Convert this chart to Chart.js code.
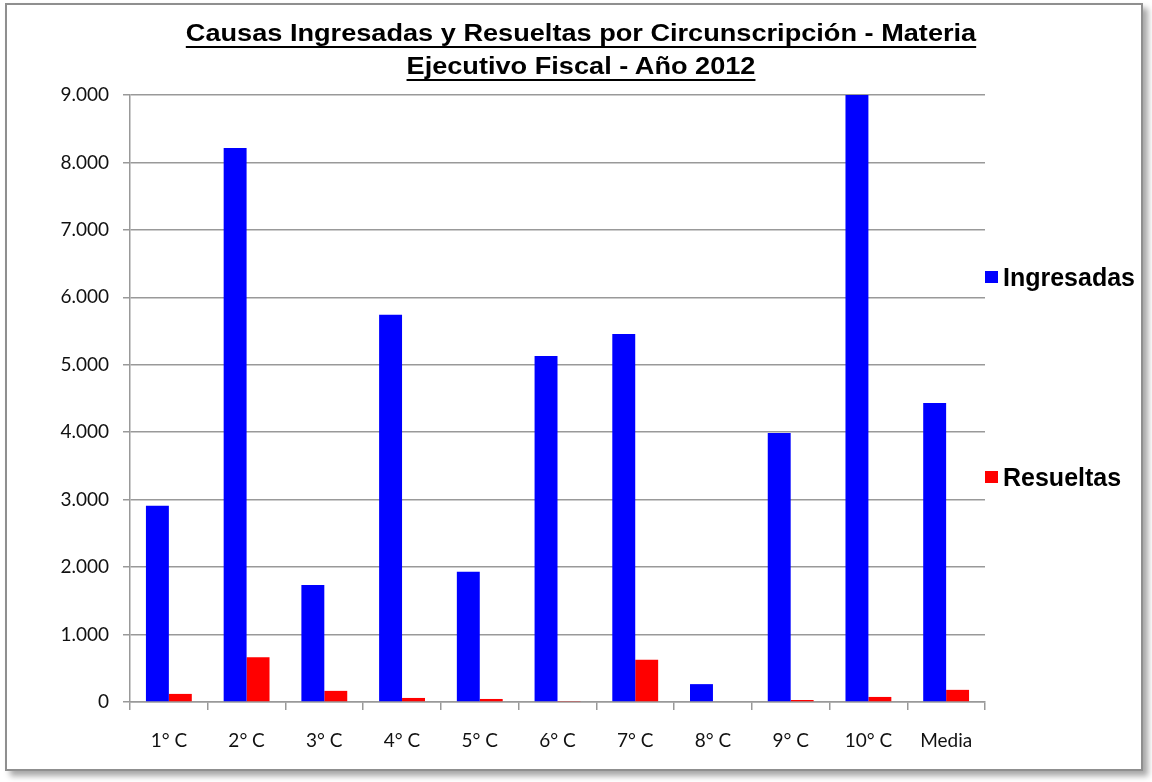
<!DOCTYPE html>
<html>
<head>
<meta charset="utf-8">
<script src="https://cdn.jsdelivr.net/npm/chart.js@4.4.1/dist/chart.umd.min.js"></script>
<style>
    body { margin: 0; background: #fff; overflow: hidden; width: 1152px; height: 782px; }
    #frame {
        position: absolute; left: 5px; top: 3px; width: 1138px; height: 768px;
        box-sizing: border-box; border: 2px solid #8f8f8f; background: #fff;
        box-shadow: 5px 5px 6px rgba(0, 0, 0, 0.35);
    }
    #frame canvas { position: absolute; left: 0; top: 0; }
    #titulo {
        position: absolute; left: 0; top: 17px; width: 1162px;
        text-align: center; font-family: "Liberation Sans", Arial, sans-serif;
        font-weight: bold; font-size: 23px; line-height: 33px; color: #000;
        text-decoration: underline; text-decoration-thickness: 2px; text-underline-offset: 5px;
        transform: scaleX(1.18); transform-origin: 581px 0;
    }
</style>
</head>
<body>
<div id="frame"><canvas id="grafico" width="1134" height="764"></canvas></div>
<div id="titulo">Causas Ingresadas y Resueltas por Circunscripción - Materia<br>Ejecutivo Fiscal - Año 2012</div>
<script>
// datos
const categorias = ['1° C', '2° C', '3° C', '4° C', '5° C', '6° C', '7° C', '8° C', '9° C', '10° C', 'Media'];
const ingresadas = [2910, 8215, 1735, 5740, 1930, 5130, 5455, 265, 3990, 9000, 4435];
const resueltas = [120, 665, 165, 60, 45, 15, 625, 0, 30, 75, 180];
const yMax = 9000;
const yPaso = 1000;

function miles(v) {
    return String(v).replace(/\B(?=(\d{3})+(?!\d))/g, '.');
}

// leyenda a la derecha, items separados como en el original
const leyenda = {
    id: 'leyenda',
    afterDraw(chart) {
        let ctx = chart.ctx;
        let area = chart.chartArea;
        ctx.save();
        chart.data.datasets.forEach((ds, i) => {
            let y = area.top + 182 + i * 200;
            ctx.fillStyle = ds.backgroundColor;
            ctx.fillRect(area.right, y - 6, 13, 12);
            ctx.fillStyle = '#000';
            ctx.font = 'bold 25px "Liberation Sans", Arial, sans-serif';
            ctx.textBaseline = 'alphabetic';
            ctx.textAlign = 'left';
            ctx.fillText(ds.label, area.right + 18, y + 9);
        });
        ctx.restore();
    }
};

var ctx = document.getElementById('grafico');
var chart = new Chart(ctx, {
    type: 'bar',
    data: {
        labels: categorias,
        datasets: [
            {
                label: 'Ingresadas',
                data: ingresadas,
                backgroundColor: '#0000ff',
                borderWidth: 0,
                categoryPercentage: 0.59,
                barPercentage: 1.0
            },
            {
                label: 'Resueltas',
                data: resueltas,
                backgroundColor: '#ff0000',
                borderWidth: 0,
                categoryPercentage: 0.59,
                barPercentage: 1.0
            }
        ]
    },
    options: {
        responsive: false,
        animation: false,
        layout: { padding: { top: 90, right: 156, left: 0, bottom: 0 } },
        scales: {
            x: {
                afterFit: (s) => { s.height = 67; },
                grid: {
                    offset: true,
                    drawOnChartArea: false,
                    drawTicks: true,
                    tickLength: 8,
                    color: '#999',
                    lineWidth: 1.5
                },
                border: { color: '#999', width: 1.5, z: -1 },
                ticks: {
                    color: '#111',
                    padding: 19,
                    font: { family: 'Lato', size: 19 }
                }
            },
            y: {
                min: 0,
                max: yMax,
                afterFit: (s) => { s.width = 123; },
                grid: {
                    color: '#999',
                    lineWidth: 1.5,
                    tickLength: 7,
                    z: -1
                },
                border: { color: '#999', width: 1.5 },
                ticks: {
                    stepSize: yPaso,
                    color: '#111',
                    padding: 14,
                    font: { family: 'Lato', size: 19 },
                    callback: (v) => miles(v)
                }
            }
        },
        plugins: {
            legend: { display: false },
            title: { display: false },
            tooltip: { enabled: false }
        }
    },
    plugins: [leyenda]
});
</script>
</body>
</html>
